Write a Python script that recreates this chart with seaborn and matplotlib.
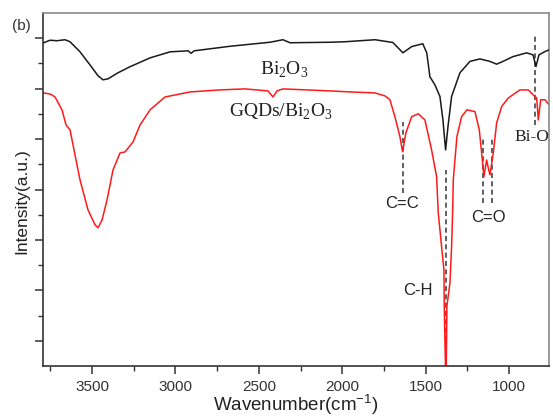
import numpy as np
import pandas as pd
import matplotlib
matplotlib.use("Agg")
import matplotlib.pyplot as plt
import seaborn as sns
from matplotlib.ticker import FixedLocator

# ---------------- data ----------------
bi2o3_wn = [3794, 3752, 3710, 3662, 3632, 3572, 3512, 3464, 3434, 3404, 3344, 3272,
            3152, 3032, 2924, 2906, 2888, 2673, 2433, 2355, 2313, 2073, 1983, 1803,
            1696, 1636, 1583, 1517, 1493, 1474, 1444, 1414, 1396, 1380, 1366, 1344,
            1294, 1234, 1174, 1114, 1074, 1036, 976, 894, 856, 838, 820, 784, 760]
bi2o3_int = [12.81, 12.92, 12.90, 12.94, 12.86, 12.46, 11.94, 11.51, 11.35, 11.39, 11.63, 11.87,
             12.22, 12.46, 12.50, 12.40, 12.50, 12.68, 12.84, 12.94, 12.82, 12.84, 12.86, 12.94,
             12.83, 12.42, 12.67, 12.78, 12.42, 11.47, 11.15, 10.69, 9.76, 8.57, 9.48, 10.69,
             11.63, 12.08, 12.18, 12.08, 11.97, 12.08, 12.27, 12.42, 12.34, 11.88, 12.34, 12.47, 12.54]

gqd_wn = [3794, 3752, 3722, 3680, 3656, 3632, 3602, 3572, 3524, 3482, 3464, 3440, 3410,
          3374, 3332, 3302, 3254, 3212, 3152, 3062, 2912, 2733, 2583, 2445, 2415, 2391,
          2355, 2073, 1953, 1803, 1743, 1714, 1684, 1654, 1638, 1618, 1583, 1544, 1504,
          1464, 1434, 1424, 1404, 1390, 1388, 1378, 1372, 1354, 1344, 1338, 1334, 1324,
          1312, 1284, 1252, 1204, 1178, 1164, 1150, 1134, 1124, 1114, 1094, 1074, 1044,
          1004, 934, 884, 854, 834, 824, 810, 784, 760]
gqd_int = [10.83, 10.79, 10.67, 10.16, 9.56, 9.37, 8.37, 7.38, 6.19, 5.60, 5.48, 5.79, 6.59,
           7.78, 8.45, 8.49, 8.89, 9.56, 10.16, 10.67, 10.87, 10.95, 10.99, 10.91, 10.67, 10.91,
           10.99, 10.91, 10.87, 10.83, 10.71, 10.56, 9.89, 9.10, 8.50, 9.25, 9.89, 10.00, 9.76,
           8.57, 7.51, 6.07, 4.73, 3.81, 2.35, -1.0, 2.38, 3.29, 4.73, 6.07, 7.38, 8.17,
           9.10, 9.89, 10.16, 10.09, 9.37, 8.45, 7.51, 8.17, 7.86, 7.58, 8.45, 9.64, 10.29,
           10.63, 10.95, 10.95, 10.75, 10.63, 9.76, 10.56, 10.56, 10.36]

# peak markers: label, wavenumber(s), dashed-line span, label position (baseline)
peak_labels = ["C=C", "C-H", "C=O", "Bi-O"]
peak_wn = [[1637], [1375], [1156, 1104], [841]]
peak_span = [(6.87, 9.69), (0.0, 7.78), (6.47, 9.0), (9.55, 13.07)]
label_pos = [(1640, 6.26), (1549, 2.82), (1124, 5.73), (862, 8.93)]

series_labels = ["Bi$_{\\mathregular{2}}$O$_{\\mathregular{3}}$",
                 "GQDs/Bi$_{\\mathregular{2}}$O$_{\\mathregular{3}}$"]
series_label_pos = [(2349, 11.55), (2370, 9.89)]

xticks = [3500, 3000, 2500, 2000, 1500, 1000]

df_b = pd.DataFrame({"wn": bi2o3_wn, "I": bi2o3_int})
df_g = pd.DataFrame({"wn": gqd_wn, "I": gqd_int})

# ---------------- plot ----------------
sns.set_style("ticks")
plt.rcParams["font.family"] = ["Liberation Sans", "DejaVu Sans"]

fig = plt.figure(figsize=(5.53, 4.17), dpi=100)
ax = fig.add_axes([43 / 553, 51 / 417, 506 / 553, 353 / 417])

# dashed peak markers (behind curves)
for wns, (y0, y1) in zip(peak_wn, peak_span):
    for w in wns:
        ax.plot([w, w], [y0, y1], color="#444444", lw=1.2,
                linestyle=(0, (3, 2)), zorder=1)

sns.lineplot(data=df_b, x="wn", y="I", sort=False, estimator=None,
             color="#1a1a1a", lw=1.1, ax=ax, zorder=3)
sns.lineplot(data=df_g, x="wn", y="I", sort=False, estimator=None,
             color="#ff1a1a", lw=1.1, ax=ax, zorder=2)

ax.set_xlim(3794, 760)
ax.set_ylim(0, 14)

ax.xaxis.set_major_locator(FixedLocator(xticks))
ax.xaxis.set_minor_locator(FixedLocator([3750, 3250, 2750, 2250, 1750, 1250, 750]))
ax.yaxis.set_major_locator(FixedLocator([1, 3, 5, 7, 9, 11, 13]))
ax.yaxis.set_minor_locator(FixedLocator([2, 4, 6, 8, 10, 12]))
ax.set_yticklabels([])
ax.tick_params(axis="x", which="major", length=6, width=1.1, colors="#333333",
               labelsize=11, pad=4, direction="out")
ax.tick_params(axis="x", which="minor", length=3.5, width=1.0, colors="#333333",
               direction="out")
ax.tick_params(axis="y", which="major", length=6, width=1.1, colors="#333333",
               direction="out")
ax.tick_params(axis="y", which="minor", length=3.5, width=1.0, colors="#333333",
               direction="out")
ax.tick_params(top=False, right=False)

for s in ["left", "bottom"]:
    ax.spines[s].set_color("#333333")
    ax.spines[s].set_linewidth(1.2)
for s in ["top", "right"]:
    ax.spines[s].set_visible(True)
    ax.spines[s].set_color("#8a8a8a")
    ax.spines[s].set_linewidth(1.2)

ax.set_xlabel(r"Wavenumber(cm$^{\mathregular{-1}}$)", fontsize=13.5, color="#222222")
ax.set_ylabel("Intensity(a.u.)", fontsize=12.5, color="#222222")
ax.xaxis.set_label_coords(0.5, -0.075)
ax.yaxis.set_label_coords(-0.026, 0.467)

# curve labels (serif)
serif = ["Liberation Serif", "DejaVu Serif"]
for lab, (x, y) in zip(series_labels, series_label_pos):
    ax.text(x, y, lab, family=serif, fontsize=14, ha="center", va="baseline",
            color="#222222")

for lab, (x, y) in zip(peak_labels, label_pos):
    if lab == "Bi-O":
        ax.text(x, y, lab, family=serif, fontsize=12.5, ha="center", va="baseline",
                color="#222222", clip_on=False, zorder=5)
    else:
        ax.text(x, y, lab, fontsize=12, ha="center", va="baseline", color="#222222")

fig.text(21 / 553, 1 - 26 / 417, "(b)", fontsize=11, ha="center", va="center",
         color="#333333")

fig.savefig("out.png", dpi=100)
